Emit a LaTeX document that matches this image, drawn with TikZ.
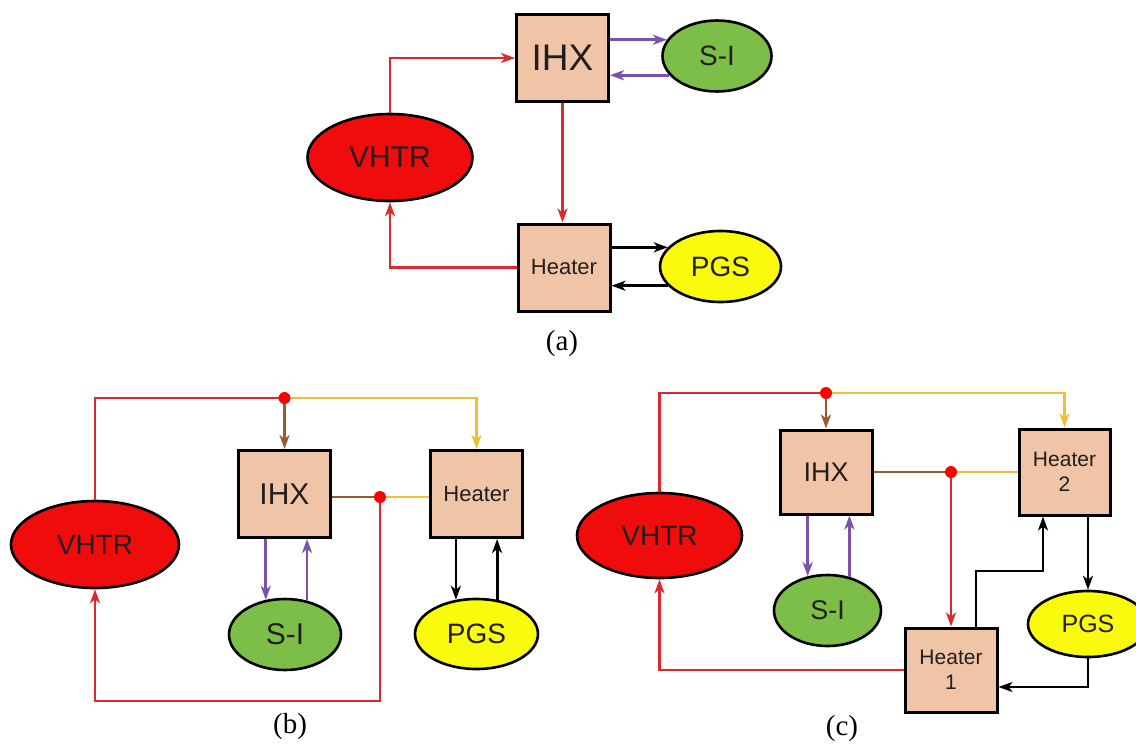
\documentclass[tikz,border=0pt]{standalone}
\usepackage{fontspec}
\setmainfont{Liberation Serif}
\setsansfont{Liberation Sans}
\usetikzlibrary{shapes.geometric,arrows.meta}

\definecolor{boxfill}{RGB}{240,196,166}
\definecolor{reactorred}{RGB}{240,12,12}
\definecolor{sigreen}{RGB}{124,190,72}
\definecolor{pgsyellow}{RGB}{250,250,12}
\definecolor{flowred}{RGB}{222,40,44}
\definecolor{flowpurple}{RGB}{122,82,172}
\definecolor{flowbrown}{RGB}{152,92,44}
\definecolor{flowgold}{RGB}{240,192,52}
\definecolor{txt}{RGB}{35,30,30}

\tikzset{
  unitbox/.style={draw=black, line width=3pt, fill=boxfill, inner sep=0pt,
    minimum width=92pt, minimum height=87pt, align=center, text=txt},
  oval/.style={ellipse, draw=black, line width=2.6pt, inner sep=0pt, text=txt},
  reactor/.style={oval, fill=reactorred},
  sulfur/.style={oval, fill=sigreen},
  power/.style={oval, fill=pgsyellow},
  fs/.style={font=\sffamily\fontsize{#1pt}{#1pt}\selectfont},
  twoline/.style={font=\sffamily\fontsize{#1pt}{25pt}\selectfont},
  tip/.style={-{Stealth[length=14pt,width=10pt,inset=4pt]}},
  redflow/.style={draw=flowred, line width=2.6pt},
  purpleflow/.style={draw=flowpurple, line width=2.8pt},
  brownflow/.style={draw=flowbrown, line width=2.6pt},
  goldflow/.style={draw=flowgold, line width=2.6pt},
  blackflow/.style={draw=black, line width=2.8pt},
  junction/.style={circle, fill=red, inner sep=0pt, minimum size=12pt},
  caption/.style={font=\fontsize{29pt}{29pt}\selectfont, text=black}
}

\begin{document}
\begin{tikzpicture}[x=1pt, y=-1pt]
\clip (0,0) rectangle (1136,745);
\fill[white] (0,0) rectangle (1136,745);

% ---------------- (a) ----------------
\node[unitbox, fs=37] (ihxA) at (562.5,58) {IHX};
\node[sulfur, fs=28, minimum width=109pt, minimum height=71pt] (siA) at (717,56) {S-I};
\node[reactor, fs=30, minimum width=165pt, minimum height=87pt] (vhtrA) at (390,157.5) {VHTR};
\node[unitbox, fs=22] (heaterA) at (564,267.5) {Heater};
\node[power, fs=28, minimum width=121pt, minimum height=71pt] (pgsA) at (720.5,266.5) {PGS};

\draw[redflow, tip] (vhtrA.north) |- (ihxA.west);
\draw[redflow, tip] (ihxA.south) -- (ihxA.south |- heaterA.north);
\draw[redflow, tip] (heaterA.west) -| (vhtrA.south);
\draw[purpleflow, tip] (ihxA.east |- siA.162) -- (siA.162);
\draw[purpleflow, tip] (siA.202) -- (ihxA.east |- siA.202);
\draw[blackflow, tip] (heaterA.east |- pgsA.160) -- (pgsA.160);
\draw[blackflow, tip] (pgsA.200) -- (heaterA.east |- pgsA.200);

\node[caption] (capA) at (562,344) {(a)};

% ---------------- (b) ----------------
\node[reactor, fs=28, minimum width=168pt, minimum height=87pt] (vhtrB) at (95,544.5) {VHTR};
\node[unitbox, fs=30] (ihxB) at (284.5,494) {IHX};
\node[unitbox, fs=22] (heaterB) at (476.5,494) {Heater};
\node[sulfur, fs=30, minimum width=112pt, minimum height=71pt] (siB) at (285,634.5) {S-I};
\node[power, fs=28, minimum width=123pt, minimum height=70pt] (pgsB) at (476.5,634) {PGS};

\coordinate (jB1) at (284.5,398);
\coordinate (jB2) at (380,497);
\coordinate (bB) at (95,701);

\draw[redflow] (vhtrB.north) |- (jB1);
\draw[brownflow, tip] (jB1) -- (ihxB.north);
\draw[goldflow, tip] (jB1) -| (heaterB.north);
\draw[brownflow] (ihxB.east |- jB2) -- (jB2);
\draw[goldflow] (jB2) -- (heaterB.west |- jB2);
\draw[redflow, tip] (jB2) |- (bB) -- (vhtrB.south);
\draw[purpleflow, tip] (ihxB.south -| siB.119) -- (siB.119);
\draw[purpleflow, tip] (siB.57) -- (ihxB.south -| siB.57);
\draw[blackflow, tip] (heaterB.south -| pgsB.121) -- (pgsB.121);
\draw[blackflow, tip] (pgsB.59) -- (heaterB.south -| pgsB.59);

\node[junction] (dB1) at (jB1) {};
\node[junction] (dB2) at (jB2) {};

\node[caption] (capB) at (290,727) {(b)};

% ---------------- (c) ----------------
\node[reactor, fs=28, minimum width=165pt, minimum height=85pt] (vhtrC) at (659.5,535.5) {VHTR};
\node[unitbox, fs=27, minimum width=92pt, minimum height=84pt] (ihxC) at (826,472) {IHX};
\node[unitbox, twoline=21, minimum width=91pt, minimum height=86pt] (heaterTwo) at (1064.5,472) {Heater\\2};
\node[unitbox, twoline=21, minimum width=92pt, minimum height=84pt] (heaterOne) at (951,670) {Heater\\1};
\node[sulfur, fs=27, minimum width=107pt, minimum height=71pt] (siC) at (827.5,610.5) {S-I};
\node[power, fs=25, minimum width=120pt, minimum height=66pt] (pgsC) at (1088,624) {PGS};

\coordinate (jC1) at (826,393);
\coordinate (jC2) at (951,472);
\coordinate (kC1) at (976,571);
\coordinate (kC2) at (1043,571);
\coordinate (kC3) at (1088,687);

\draw[redflow] (vhtrC.north) |- (jC1);
\draw[brownflow, tip] (jC1) -- (ihxC.north);
\draw[goldflow, tip] (jC1) -| (heaterTwo.north);
\draw[brownflow] (ihxC.east) -- (jC2);
\draw[goldflow] (jC2) -- (heaterTwo.west);
\draw[redflow, tip] (jC2) -- (heaterOne.north);
\draw[redflow, tip] (heaterOne.west) -| (vhtrC.south);
\draw[blackflow, tip] (heaterOne.north -| kC1) -- (kC1) -- (kC2) -- (heaterTwo.south -| kC2);
\draw[blackflow, tip] (heaterTwo.south -| pgsC.north) -- (pgsC.north);
\draw[blackflow, tip] (pgsC.south) -- (kC3) -- (heaterOne.east |- kC3);
\draw[purpleflow, tip] (ihxC.south -| siC.120) -- (siC.120);
\draw[purpleflow, tip] (siC.57) -- (ihxC.south -| siC.57);

\node[junction] (dC1) at (jC1) {};
\node[junction] (dC2) at (jC2) {};

\node[caption] (capC) at (842,729) {(c)};
\end{tikzpicture}
\end{document}
